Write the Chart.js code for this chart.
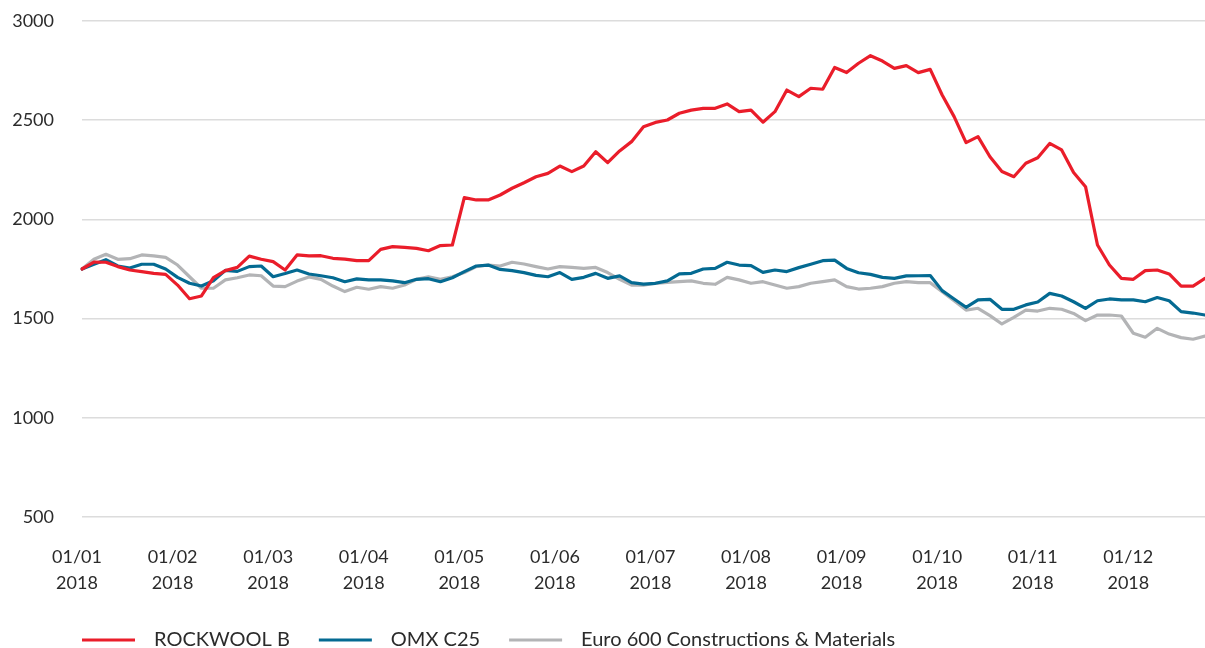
<!DOCTYPE html>
<html>
<head>
<meta charset="utf-8">
<script src="https://cdn.jsdelivr.net/npm/chart.js@4.4.1/dist/chart.umd.min.js"></script>
<style>
  html, body { margin: 0; padding: 0; background: #fff; }
  #wrap { width: 1205px; height: 648px; position: relative; }
</style>
</head>
<body>
<div id="wrap"><canvas id="perfChart"></canvas></div>
<script>
// tick labels, one per month
var monthLabels = [
    ['01/01', '2018'], ['01/02', '2018'], ['01/03', '2018'], ['01/04', '2018'],
    ['01/05', '2018'], ['01/06', '2018'], ['01/07', '2018'], ['01/08', '2018'],
    ['01/09', '2018'], ['01/10', '2018'], ['01/11', '2018'], ['01/12', '2018']
];
var samplesPerMonth = 8; // readings per month along the year

var seriesNames = ['ROCKWOOL B', 'OMX C25', 'Euro 600 Constructions & Materials'];

var rockwool = [
    1750, 1785, 1784, 1762, 1745, 1737, 1728, 1723, 1669, 1600, 1614, 1706, 1742, 1758, 1815, 1799,
    1787, 1745, 1821, 1816, 1817, 1804, 1800, 1792, 1792, 1849, 1863, 1859, 1854, 1842, 1868, 1871,
    2110, 2098, 2098, 2123, 2157, 2185, 2215, 2232, 2269, 2241, 2269, 2341, 2286, 2345, 2392, 2467,
    2489, 2501, 2535, 2551, 2560, 2560, 2582, 2543, 2551, 2490, 2543, 2652, 2619, 2661, 2656, 2766,
    2740, 2787, 2825, 2798, 2761, 2775, 2740, 2756, 2627, 2518, 2387, 2417, 2316, 2241, 2215, 2283,
    2311, 2383, 2350, 2236, 2165, 1871, 1770, 1703, 1698, 1742, 1745, 1725, 1664, 1664, 1703
];
var omxC25 = [
    1750, 1774, 1797, 1765, 1755, 1774, 1774, 1750, 1708, 1678, 1664, 1691, 1743, 1738, 1762, 1765,
    1711, 1727, 1745, 1725, 1716, 1706, 1686, 1700, 1695, 1695, 1690, 1681, 1698, 1701, 1686, 1706,
    1737, 1765, 1770, 1748, 1742, 1732, 1718, 1711, 1732, 1698, 1708, 1728, 1703, 1715, 1681, 1674,
    1678, 1690, 1725, 1728, 1750, 1753, 1784, 1770, 1767, 1733, 1745, 1737, 1757, 1774, 1792, 1795,
    1753, 1731, 1723, 1708, 1703, 1715, 1716, 1717, 1641, 1599, 1557, 1594, 1597, 1547, 1547, 1569,
    1584, 1627, 1614, 1585, 1552, 1590, 1599, 1594, 1594, 1585, 1606, 1590, 1535, 1528, 1518
];
var euro600 = [
    1750, 1799, 1824, 1799, 1802, 1821, 1816, 1809, 1770, 1711, 1653, 1653, 1695, 1706, 1720, 1716,
    1664, 1661, 1689, 1710, 1698, 1664, 1636, 1658, 1648, 1661, 1653, 1669, 1698, 1711, 1698, 1711,
    1732, 1762, 1770, 1765, 1784, 1775, 1762, 1750, 1762, 1758, 1753, 1758, 1732, 1698, 1669, 1669,
    1678, 1683, 1686, 1690, 1678, 1673, 1708, 1695, 1678, 1686, 1669, 1653, 1661, 1678, 1686, 1695,
    1661, 1649, 1653, 1661, 1678, 1686, 1681, 1681, 1636, 1590, 1543, 1552, 1515, 1473, 1506, 1543,
    1538, 1552, 1547, 1526, 1490, 1518, 1518, 1513, 1426, 1406, 1451, 1422, 1404, 1396, 1412
];

var yTicks = [500, 1000, 1500, 2000, 2500, 3000];

// one category per reading, month label on the first reading of each month
var labels = rockwool.map(function (v, i) {
    return (i % samplesPerMonth === 0) ? monthLabels[i / samplesPerMonth] : '';
});

var FONT = 'Lato, "Noto Sans", sans-serif';
var TEXT = '#2b2b2b';

// legend drawn under the chart: long line swatch, then the name
var lineLegend = {
    id: 'lineLegend',
    afterDraw: function (chart) {
        var ctx = chart.ctx;
        var x = 82, y = 640;
        ctx.save();
        ctx.font = '20px ' + FONT;
        ctx.textBaseline = 'middle';
        chart.data.datasets.forEach(function (ds) {
            ctx.strokeStyle = ds.borderColor;
            ctx.lineWidth = 3;
            ctx.beginPath();
            ctx.moveTo(x, y);
            ctx.lineTo(x + 53, y);
            ctx.stroke();
            x += 53 + 19;
            ctx.fillStyle = TEXT;
            ctx.fillText(ds.label, x, y);
            x += ctx.measureText(ds.label).width + 29;
        });
        ctx.restore();
    }
};

var ctx = document.getElementById('perfChart').getContext('2d');

var perfChart = new Chart(ctx, {
    type: 'line',
    data: {
        labels: labels,
        datasets: [
            { label: seriesNames[0], data: rockwool, borderColor: '#ea1d2a', borderWidth: 3.2 },
            { label: seriesNames[1], data: omxC25, borderColor: '#046a92', borderWidth: 3.2 },
            { label: seriesNames[2], data: euro600, borderColor: '#b3b4b6', borderWidth: 3.2 }
        ]
    },
    options: {
        responsive: true,
        maintainAspectRatio: false,
        animation: false,
        layout: { padding: { top: 21, right: 0, bottom: 0, left: 0 } },
        elements: {
            point: { radius: 0, hoverRadius: 0 },
            line: { tension: 0, borderJoinStyle: 'round', borderCapStyle: 'round' }
        },
        scales: {
            x: {
                type: 'category',
                offset: false,
                grid: { display: false },
                border: { display: false },
                ticks: {
                    autoSkip: false,
                    maxRotation: 0,
                    padding: 20,
                    labelOffset: -5,
                    color: TEXT,
                    font: { family: FONT, size: 18, lineHeight: 1.4 }
                },
                afterFit: function (scale) {
                    scale.height = 131;
                    scale.paddingLeft = 0;
                    scale.paddingRight = 0;
                }
            },
            y: {
                min: 500,
                max: 3000,
                afterBuildTicks: function (scale) {
                    scale.ticks = yTicks.map(function (v) { return { value: v }; });
                },
                grid: { color: '#dcdcdc', lineWidth: 1.5, drawTicks: false },
                border: { display: false },
                ticks: {
                    padding: 28,
                    color: TEXT,
                    font: { family: FONT, size: 18 },
                    callback: function (value) { return String(value); }
                },
                afterFit: function (scale) {
                    scale.width = 82;
                    scale.paddingTop = 0;
                    scale.paddingBottom = 0;
                }
            }
        },
        plugins: {
            legend: { display: false },
            tooltip: { enabled: false }
        }
    },
    plugins: [lineLegend]
});
</script>
</body>
</html>
